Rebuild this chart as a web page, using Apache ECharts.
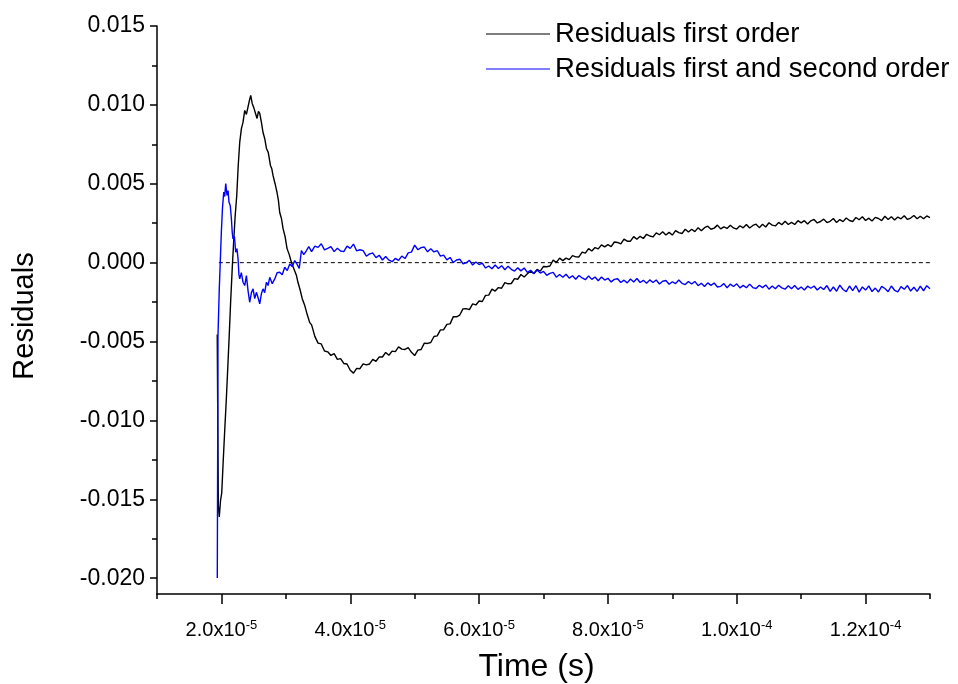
<!DOCTYPE html>
<html>
<head>
<meta charset="utf-8">
<script src="https://cdn.jsdelivr.net/npm/echarts@6/dist/echarts.min.js"></script>
<style>
  html, body { margin: 0; padding: 0; background: #ffffff; }
  #chart { width: 958px; height: 684px; }
</style>
</head>
<body>
<div id="chart"></div>
<script>
// Times are stored in microseconds, residuals in units of 1e-3.

// Fast transient: first-order fit residuals
const earlyTimesFirst = [
  19.35, 19.52, 19.67, 19.86, 20.05, 20.28, 20.51, 20.75, 20.98, 21.21,
  21.44, 21.68, 21.91, 22.14, 22.38, 22.61, 22.84, 23.11, 23.35, 23.62,
  23.88, 24.13, 24.35, 24.55, 24.78, 25.06, 25.30, 25.53, 25.75, 25.95,
  26.21, 26.46, 26.72, 26.99, 27.27, 27.61, 27.81, 28.01, 28.32, 28.63,
  28.85, 29.05, 29.32, 29.57, 29.88, 30.19, 30.53, 30.87, 31.23, 31.65,
  31.89, 32.16, 32.55, 32.94, 33.32, 33.71
];
const earlyFirst = [
  -4.56, -15.41, -16.11, -15.09, -14.59, -12.56, -10.65, -8.75, -6.72, -4.63,
  -2.40, -0.37, 1.40, 2.99, 4.26, 6.16, 7.62, 8.51, 8.89, 9.65,
  9.40, 9.33, 10.29, 10.60, 10.09, 9.78, 9.90, 9.14, 9.59, 9.46,
  8.89, 8.25, 7.87, 7.24, 6.99, 6.16, 5.97, 5.53, 5.02, 4.45,
  3.94, 3.18, 2.80, 2.16, 1.66, 0.89, 0.51, 0.01, -0.37, -0.82,
  -1.26, -1.64, -2.28, -2.72, -3.29, -3.80
];

// Fast transient: first + second order fit residuals
const earlyTimesSecond = [
  19.36, 19.47, 19.66, 19.84, 20.00, 20.16, 20.36, 20.51, 20.67, 20.87,
  21.03, 21.18, 21.37, 21.55, 21.68, 21.80, 22.02, 22.22, 22.41, 22.58,
  22.72, 22.84, 23.09, 23.35, 23.62, 23.88, 24.13, 24.39, 24.66, 24.91,
  25.17, 25.43, 25.68, 25.95, 26.21, 26.46, 26.72, 26.99, 27.24, 27.50,
  27.89, 28.28, 28.66, 29.05, 29.44, 29.83, 30.22, 30.61, 30.99, 31.38,
  31.77, 32.08, 32.42, 32.78, 33.20, 33.56
];
const earlySecond = [
  -19.98, -4.63, -1.77, 0.26, 2.04, 3.43, 4.47, 4.19, 5.02, 4.26,
  4.57, 3.83, 3.62, 2.78, 1.91, 1.51, 1.66, 0.66, 0.89, 0.26,
  -0.76, -1.03, -0.63, -1.24, -1.45, -0.82, -1.77, -2.51, -1.90, -1.66,
  -2.28, -1.88, -2.21, -2.61, -1.96, -1.66, -1.90, -1.24, -1.45, -0.93,
  -1.33, -1.03, -0.63, -0.61, -0.76, -0.29, -0.50, -0.08, -0.25, 0.13,
  -0.12, -0.37, 0.77, 0.51, 0.77, 1.02
];

// Slow tail, shared sample times for both residual traces
const lateTimes = [
  34, 34.5, 35, 35.5, 36, 36.5, 37, 37.5, 38, 38.5,
  39, 39.5, 40, 40.5, 41, 41.5, 42, 42.5, 43, 43.5,
  44, 44.5, 45, 45.5, 46, 46.5, 47, 47.5, 48, 48.5,
  49, 49.5, 50, 50.5, 51, 51.5, 52, 52.5, 53, 53.5,
  54, 54.5, 55, 55.5, 56, 56.5, 57, 57.5, 58, 58.5,
  59, 59.5, 60, 60.5, 61, 61.5, 62, 62.5, 63, 63.5,
  64, 64.5, 65, 65.5, 66, 66.5, 67, 67.5, 68, 68.5,
  69, 69.5, 70, 70.5, 71, 71.5, 72, 72.5, 73, 73.5,
  74, 74.5, 75, 75.5, 76, 76.5, 77, 77.5, 78, 78.5,
  79, 79.5, 80, 80.5, 81, 81.5, 82, 82.5, 83, 83.5,
  84, 84.5, 85, 85.5, 86, 86.5, 87, 87.5, 88, 88.5,
  89, 89.5, 90, 90.5, 91, 91.5, 92, 92.5, 93, 93.5,
  94, 94.5, 95, 95.5, 96, 96.5, 97, 97.5, 98, 98.5,
  99, 99.5, 100, 100.5, 101, 101.5, 102, 102.5, 103, 103.5,
  104, 104.5, 105, 105.5, 106, 106.5, 107, 107.5, 108, 108.5,
  109, 109.5, 110, 110.5, 111, 111.5, 112, 112.5, 113, 113.5,
  114, 114.5, 115, 115.5, 116, 116.5, 117, 117.5, 118, 118.5,
  119, 119.5, 120, 120.5, 121, 121.5, 122, 122.5, 123, 123.5,
  124, 124.5, 125, 125.5, 126, 126.5, 127, 127.5, 128, 128.5,
  129, 129.5, 130
];
const lateFirst = [
  -3.94, -4.67, -5.10, -5.15, -5.60, -5.65, -5.88, -5.76, -6.13, -6.08,
  -6.39, -6.42, -6.82, -7.00, -6.70, -6.72, -6.41, -6.48, -6.42, -6.13,
  -6.25, -5.97, -5.98, -5.69, -5.87, -5.61, -5.64, -5.34, -5.48, -5.50,
  -5.38, -5.68, -5.89, -5.54, -5.50, -5.10, -5.12, -5.06, -4.68, -4.64,
  -4.26, -4.25, -3.91, -3.88, -3.42, -3.43, -3.32, -2.93, -2.91, -2.98,
  -2.61, -2.68, -2.43, -2.46, -2.07, -2.06, -1.68, -1.80, -1.58, -1.62,
  -1.27, -1.34, -1.32, -1.01, -1.05, -0.75, -0.91, -0.70, -0.54, -0.69,
  -0.43, -0.54, -0.24, -0.26, -0.21, 0.16, 0.02, 0.29, 0.13, 0.29,
  0.19, 0.45, 0.37, 0.36, 0.67, 0.60, 0.89, 0.74, 0.96, 0.87,
  1.13, 1.00, 1.14, 1.02, 1.31, 1.28, 1.19, 1.49, 1.36, 1.36,
  1.65, 1.48, 1.67, 1.53, 1.80, 1.69, 1.63, 1.89, 1.77, 1.96,
  1.75, 1.92, 1.75, 2.03, 1.90, 1.85, 2.12, 1.94, 2.12, 1.97,
  2.22, 2.02, 2.22, 2.31, 2.12, 2.19, 2.38, 2.14, 2.27, 2.17,
  2.37, 2.20, 2.13, 2.34, 2.21, 2.42, 2.20, 2.36, 2.44, 2.22,
  2.43, 2.26, 2.53, 2.38, 2.33, 2.55, 2.40, 2.63, 2.42, 2.55,
  2.42, 2.66, 2.52, 2.66, 2.45, 2.65, 2.74, 2.52, 2.61, 2.76,
  2.54, 2.62, 2.80, 2.54, 2.73, 2.60, 2.83, 2.67, 2.61, 2.86,
  2.72, 2.91, 2.67, 2.82, 2.64, 2.87, 2.80, 2.67, 2.94, 2.74,
  2.91, 2.70, 2.89, 2.78, 2.97, 2.74, 2.83, 2.99, 2.78, 2.94,
  2.78, 2.96, 2.86
];
const lateSecond = [
  0.70, 1.05, 0.97, 1.20, 0.81, 0.90, 1.02, 0.70, 0.91, 0.74,
  0.70, 1.05, 0.91, 1.18, 0.75, 0.82, 0.76, 0.41, 0.56, 0.61,
  0.32, 0.47, 0.17, 0.39, 0.16, 0.06, 0.27, 0.14, 0.42, 0.26,
  0.62, 0.67, 1.11, 0.82, 0.95, 0.99, 0.69, 0.88, 0.68, 0.77,
  0.41, 0.48, 0.18, 0.33, 0.01, 0.17, 0.22, -0.07, -0.01, 0.15,
  -0.15, 0.04, -0.12, -0.03, -0.34, -0.21, -0.39, -0.15, -0.37, -0.19,
  -0.45, -0.22, -0.42, -0.53, -0.33, -0.52, -0.34, -0.62, -0.48, -0.70,
  -0.47, -0.66, -0.55, -0.80, -0.68, -0.62, -0.92, -0.75, -0.92, -0.73,
  -0.98, -0.83, -1.05, -0.81, -0.97, -1.08, -0.84, -1.06, -0.91, -1.15,
  -0.91, -1.10, -0.99, -1.22, -1.06, -1.02, -1.26, -1.11, -1.28, -1.04,
  -1.22, -1.00, -1.26, -1.12, -1.30, -1.09, -1.26, -1.10, -1.35, -1.18,
  -1.13, -1.37, -1.21, -1.33, -1.10, -1.31, -1.39, -1.19, -1.35, -1.19,
  -1.46, -1.30, -1.51, -1.28, -1.44, -1.29, -1.54, -1.50, -1.33, -1.59,
  -1.36, -1.51, -1.34, -1.60, -1.44, -1.59, -1.36, -1.58, -1.64, -1.43,
  -1.58, -1.41, -1.68, -1.48, -1.65, -1.43, -1.60, -1.68, -1.46, -1.65,
  -1.45, -1.69, -1.54, -1.73, -1.49, -1.62, -1.48, -1.73, -1.54, -1.70,
  -1.45, -1.82, -1.54, -1.81, -1.42, -1.70, -1.83, -1.48, -1.77, -1.46,
  -1.87, -1.54, -1.74, -1.47, -1.83, -1.61, -1.86, -1.50, -1.64, -1.84,
  -1.48, -1.75, -1.85, -1.52, -1.69, -1.45, -1.80, -1.56, -1.82, -1.49,
  -1.78, -1.46, -1.65
];

// Zero reference line (time in microseconds)
const zeroLineTimes = [19.6, 130];

// Axis ticks
const xMajorTicks = [2e-5, 4e-5, 6e-5, 8e-5, 1e-4, 1.2e-4];
const xMinorTicks = [1e-5, 3e-5, 5e-5, 7e-5, 9e-5, 1.1e-4, 1.3e-4];
const yMajorTicks = [-0.020, -0.015, -0.010, -0.005, 0, 0.005, 0.010, 0.015];
const yMinorTicks = [-0.0175, -0.0125, -0.0075, -0.0025, 0.0025, 0.0075, 0.0125];

const seriesNames = ['Residuals first order', 'Residuals first and second order'];

const US = 1e-6;
const MILLI = 1e-3;
function toPairs(times, vals) {
  const n = Math.min(times.length, vals.length);
  const out = [];
  for (let i = 0; i < n; i++) out.push([times[i] * US, vals[i] * MILLI]);
  return out;
}

const firstOrderData = toPairs(earlyTimesFirst, earlyFirst).concat(toPairs(lateTimes, lateFirst));
const secondOrderData = toPairs(earlyTimesSecond, earlySecond).concat(toPairs(lateTimes, lateSecond));
const zeroLineData = zeroLineTimes.map(t => [t * US, 0]);

const FONT = '"Liberation Sans", Arial, Helvetica, sans-serif';
const X_MIN = 1e-5, X_MAX = 1.3e-4;
const Y_MIN = -0.021, Y_MAX = 0.015;

// "2.0x10" followed by a raised exponent
function sciLabel(v) {
  const parts = v.toExponential(1).split('e');
  return '{m|' + parts[0] + 'x10}{e|' + (+parts[1]) + '}';
}

const axisLineStyle = { color: '#000', width: 1.5 };

const chart = echarts.init(document.getElementById('chart'), null, { renderer: 'canvas' });
chart.setOption({
  animation: false,
  backgroundColor: '#ffffff',
  grid: { left: 157, right: 28, top: 26, bottom: 90, containLabel: false, outerBoundsMode: 'none' },
  legend: {
    data: seriesNames,
    orient: 'vertical',
    left: 486,
    top: 20,
    padding: 0,
    itemWidth: 64,
    itemHeight: 1,
    itemGap: 7,
    icon: 'rect',
    selectedMode: false,
    textStyle: { fontSize: 27.5, lineHeight: 28, color: '#000', fontFamily: FONT }
  },
  xAxis: [
    {
      type: 'value', min: X_MIN, max: X_MAX, position: 'bottom',
      axisLine: { onZero: false, lineStyle: axisLineStyle },
      axisTick: { customValues: xMajorTicks, length: 10, lineStyle: axisLineStyle },
      axisLabel: {
        customValues: xMajorTicks, formatter: sciLabel, margin: 25, color: '#000',
        rich: {
          m: { fontSize: 20, fontFamily: FONT, color: '#000', lineHeight: 22 },
          e: { fontSize: 13, fontFamily: FONT, color: '#000', lineHeight: 13, verticalAlign: 'top' }
        }
      },
      splitLine: { show: false },
      name: 'Time (s)', nameLocation: 'middle', nameGap: 57,
      nameTextStyle: { fontSize: 32, color: '#000', fontFamily: FONT, padding: [0, 14, 0, 0] }
    },
    {
      type: 'value', min: X_MIN, max: X_MAX, position: 'bottom',
      axisLine: { show: false, onZero: false },
      axisTick: { customValues: xMinorTicks, length: 5, lineStyle: axisLineStyle },
      axisLabel: { show: false },
      splitLine: { show: false }
    }
  ],
  yAxis: [
    {
      type: 'value', min: Y_MIN, max: Y_MAX, position: 'left',
      axisLine: { show: true, onZero: false, lineStyle: axisLineStyle },
      axisTick: { show: true, customValues: yMajorTicks, length: 7, lineStyle: axisLineStyle },
      axisLabel: {
        customValues: yMajorTicks, margin: 12, color: '#000', fontSize: 23, fontFamily: FONT,
        formatter: v => v.toFixed(3)
      },
      splitLine: { show: false },
      name: 'Residuals', nameLocation: 'middle', nameGap: 118,
      nameTextStyle: { fontSize: 29, color: '#000', fontFamily: FONT, padding: [0, 12, 0, 0] }
    },
    {
      type: 'value', min: Y_MIN, max: Y_MAX, position: 'left',
      axisLine: { show: false, onZero: false },
      axisTick: { show: true, customValues: yMinorTicks, length: 5, lineStyle: axisLineStyle },
      axisLabel: { show: false },
      splitLine: { show: false }
    }
  ],
  series: [
    {
      name: 'zero', type: 'line', data: zeroLineData, symbol: 'none', silent: true,
      lineStyle: { color: '#000', width: 1, type: [4, 3] }, z: 1
    },
    {
      name: seriesNames[0], type: 'line', data: firstOrderData, symbol: 'none',
      color: '#000000', lineStyle: { color: '#000000', width: 1.4 }, z: 2
    },
    {
      name: seriesNames[1], type: 'line', data: secondOrderData, symbol: 'none',
      color: '#0000ff', lineStyle: { color: '#0000ff', width: 1.4 }, z: 3
    }
  ]
});
</script>
</body>
</html>
